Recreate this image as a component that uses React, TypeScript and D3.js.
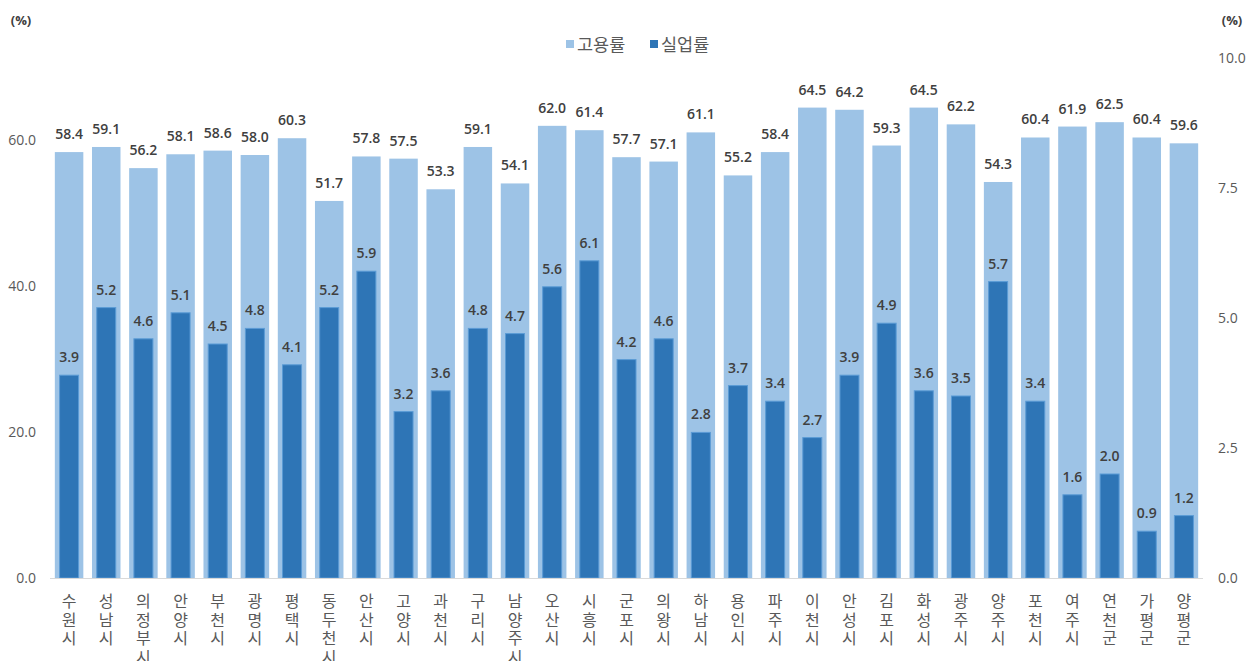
import React from "react";
import * as d3 from "d3";

const categories = ["수원시","성남시","의정부시","안양시","부천시","광명시","평택시","동두천시","안산시","고양시","과천시","구리시","남양주시","오산시","시흥시","군포시","의왕시","하남시","용인시","파주시","이천시","안성시","김포시","화성시","광주시","양주시","포천시","여주시","연천군","가평군","양평군"];
const employment = [58.4,59.1,56.2,58.1,58.6,58.0,60.3,51.7,57.8,57.5,53.3,59.1,54.1,62.0,61.4,57.7,57.1,61.1,55.2,58.4,64.5,64.2,59.3,64.5,62.2,54.3,60.4,61.9,62.5,60.4,59.6];
const unemployment = [3.9,5.2,4.6,5.1,4.5,4.8,4.1,5.2,5.9,3.2,3.6,4.8,4.7,5.6,6.1,4.2,4.6,2.8,3.7,3.4,2.7,3.9,4.9,3.6,3.5,5.7,3.4,1.6,2.0,0.9,1.2];
const leftTicks = [0, 20, 40, 60];
const rightTicks = [0, 2.5, 5, 7.5, 10];
const seriesNames = ["고용률", "실업률"];

const W = 1256, H = 661;
const FONT = "'Noto Sans CJK KR', 'Noto Sans', sans-serif";
const NUMFONT = "'Open Sans', 'Noto Sans', sans-serif";
const LIGHT = "#9DC3E6";
const DARK = "#2E75B6";

export default function App() {
  const x = d3.scaleBand<string>().domain(categories).range([50.5, 1202.5]).paddingInner(0).paddingOuter(0);
  const yL = d3.scaleLinear().domain([0, 71.3]).range([578, 58]);
  const yR = d3.scaleLinear().domain([0, 10]).range([578, 58]);
  const bw = x.bandwidth();
  const lightW = 28.5;
  const darkW = 19;
  return (
    <svg width={W} height={H} style={{ position: "absolute", left: 0, top: 0, fontFamily: FONT }}>
      <rect width={W} height={H} fill="#fff" />
      <text x={21} y={25} textAnchor="middle" fontSize={13} fontWeight="bold" fill="#404040" fontFamily={NUMFONT}>(%)</text>
      <text x={1232} y={25} textAnchor="middle" fontSize={13} fontWeight="bold" fill="#404040" fontFamily={NUMFONT}>(%)</text>
      {/* legend */}
      <g>
        <rect x={566} y={40} width={8} height={8} fill={LIGHT} />
        <text x={577} y={51} fontSize={17.5} fill="#595959">{seriesNames[0]}</text>
        <rect x={650} y={40} width={8} height={8} fill={DARK} />
        <text x={661} y={51} fontSize={17.5} fill="#595959">{seriesNames[1]}</text>
      </g>
      {leftTicks.map((t) => (
        <text key={"l" + t} x={36} y={yL(t)} dy="0.35em" textAnchor="end" fontSize={14} fill="#595959" fontFamily={NUMFONT}>{t.toFixed(1)}</text>
      ))}
      {rightTicks.map((t) => (
        <text key={"r" + t} x={1218} y={yR(t)} dy="0.35em" textAnchor="start" fontSize={14} fill="#595959" fontFamily={NUMFONT}>{t.toFixed(1)}</text>
      ))}
      {categories.map((c, i) => {
        const cx = (x(c) as number) + bw / 2;
        return (
          <g key={c}>
            <rect x={cx - lightW / 2} y={yL(employment[i])} width={lightW} height={yL(0) - yL(employment[i])} fill={LIGHT} />
            <rect x={cx - darkW / 2} y={yR(unemployment[i])} width={darkW} height={yR(0) - yR(unemployment[i])} fill={DARK} stroke="#5B9BD5" strokeWidth={1} />
            <text x={cx} y={yL(employment[i]) - 13} textAnchor="middle" fontSize={14} fontWeight={600} fill="#404040" fontFamily={NUMFONT}>{employment[i].toFixed(1)}</text>
            <text x={cx} y={yR(unemployment[i]) - 13} textAnchor="middle" fontSize={14} fontWeight={600} fill="#404040" fontFamily={NUMFONT}>{unemployment[i].toFixed(1)}</text>
            {Array.from(c).map((ch, j) => (
              <text key={j} x={cx} y={607 + j * 18.5} textAnchor="middle" fontSize={16} fill="#595959">{ch}</text>
            ))}
          </g>
        );
      })}
      <line x1={50} x2={1203} y1={578.5} y2={578.5} stroke="#D9D9D9" strokeWidth={1} />
    </svg>
  );
}
